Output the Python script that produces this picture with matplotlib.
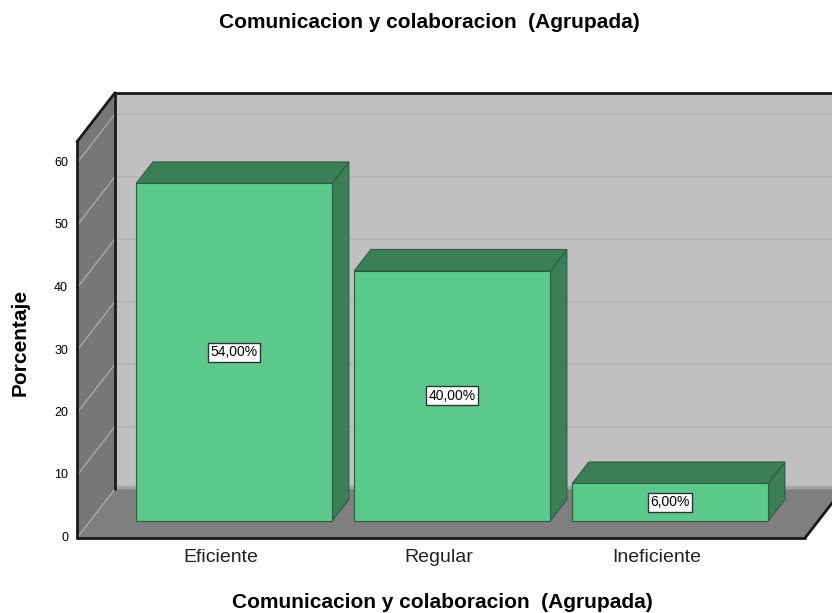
import matplotlib
matplotlib.use("Agg")
import matplotlib.pyplot as plt
from matplotlib.patches import Polygon

# ---- data ----
categories = ["Eficiente", "Regular", "Ineficiente"]
percentages = [54.0, 40.0, 6.0]
value_labels = ["54,00%", "40,00%", "6,00%"]
yticks = [0, 10, 20, 30, 40, 50, 60]
title = "Comunicacion y colaboracion  (Agrupada)"
xlabel = "Comunicacion y colaboracion  (Agrupada)"
ylabel = "Porcentaje"

plt.rcParams['font.family'] = ['Liberation Sans', 'DejaVu Sans']

W, H = 832, 613
fig = plt.figure(figsize=(W / 100, H / 100), dpi=100)
ax = fig.add_axes([0, 0, 1, 1])
ax.set_axis_off()

PX_CAT = 218.0
PX_VAL = 6.25
X0_PX = 221.0
Y0_PX = 538.0
ax.set_xlim(-X0_PX / PX_CAT, (W - X0_PX) / PX_CAT)
ax.set_ylim((Y0_PX - H) / PX_VAL, Y0_PX / PX_VAL)

DX = 38.0 / PX_CAT
DY = 49.0 / PX_VAL
YMAX = 63.4
XL = (77 - X0_PX) / PX_CAT
XR = (805 - X0_PX) / PX_CAT

back_c = "#c0c0c0"
wall_c = "#777777"
floor_c = "#7f7f7f"

ax.add_patch(Polygon([(XL + DX, DY), (XR + DX, DY), (XR + DX, YMAX + DY), (XL + DX, YMAX + DY)],
                     closed=True, fc=back_c, ec="none", zorder=1))
ax.add_patch(Polygon([(XL, 0), (XL + DX, DY), (XL + DX, YMAX + DY), (XL, YMAX)],
                     closed=True, fc=wall_c, ec="none", zorder=1))
ax.add_patch(Polygon([(XL, 0), (XR, 0), (XR + DX, DY), (XL + DX, DY)],
                     closed=True, fc=floor_c, ec="none", zorder=1))
ax.plot([XL + DX, XR + DX], [DY + 0.3, DY + 0.3], color="#a6a6a6", lw=2.5, zorder=1.5,
        solid_capstyle="butt")

for t in yticks:
    if t > 0:
        ax.plot([XL + DX, XR + DX], [t + DY, t + DY], color="#b3b3b3", lw=1.2, zorder=2)
    ax.plot([XL, XL + DX], [t, t + DY], color="#a9a9a9", lw=1.0, zorder=2)
    ax.text(XL - 9 / PX_CAT, t, str(t), ha="right", va="center", fontsize=9, color="#000000")

ek = dict(color="#1a1a1a", lw=2.0, zorder=3, solid_capstyle="round")
ax.plot([XL, XL], [0, YMAX], **ek)
ax.plot([XL, XL + DX], [YMAX, YMAX + DY], **ek)
ax.plot([XL + DX, XL + DX], [DY, YMAX + DY], **ek)
ax.plot([XL + DX, XR + DX], [YMAX + DY, YMAX + DY], **ek)
ax.plot([XL, XR], [0, 0], **ek)
ax.plot([XR, XR + DX], [0, DY], **ek)

front_c = "#5bc98b"
dark_c = "#3b7f57"
edge_c = "#2f5a40"
F0, F1 = 0.347, 0.786
BW = 196.0 / PX_CAT
for i, (v, lab) in enumerate(zip(percentages, value_labels)):
    x0 = i - BW / 2 + F0 * DX
    x1 = i + BW / 2 + F0 * DX
    yb = F0 * DY
    yt = v + F0 * DY
    ddx = (F1 - F0) * DX
    ddy = (F1 - F0) * DY
    ax.add_patch(Polygon([(x1, yb), (x1 + ddx, yb + ddy), (x1 + ddx, yt + ddy), (x1, yt)],
                         closed=True, fc=dark_c, ec=edge_c, lw=0.8, zorder=4))
    ax.add_patch(Polygon([(x0, yt), (x1, yt), (x1 + ddx, yt + ddy), (x0 + ddx, yt + ddy)],
                         closed=True, fc=dark_c, ec=edge_c, lw=0.8, zorder=4))
    ax.add_patch(Polygon([(x0, yb), (x1, yb), (x1, yt), (x0, yt)],
                         closed=True, fc=front_c, ec=edge_c, lw=0.8, zorder=5))
    ax.text((x0 + x1) / 2, (yb + yt) / 2, lab, ha="center", va="center", fontsize=10,
            zorder=6, bbox=dict(boxstyle="square,pad=0.18", fc="white", ec="#333333", lw=1.0))
    ax.text(i, (Y0_PX - 558) / PX_VAL, categories[i], ha="center", va="center",
            fontsize=14, color="#222222")

fig.text(429 / W, 1 - 22 / H, title, ha="center", va="center", fontsize=15, fontweight="bold")
fig.text(442 / W, 1 - 603 / H, xlabel, ha="center", va="center", fontsize=15, fontweight="bold")
fig.text(20 / W, 1 - 342 / H, ylabel, ha="center", va="center", fontsize=15,
         fontweight="bold", rotation=90)

fig.savefig("out.png", dpi=100)
